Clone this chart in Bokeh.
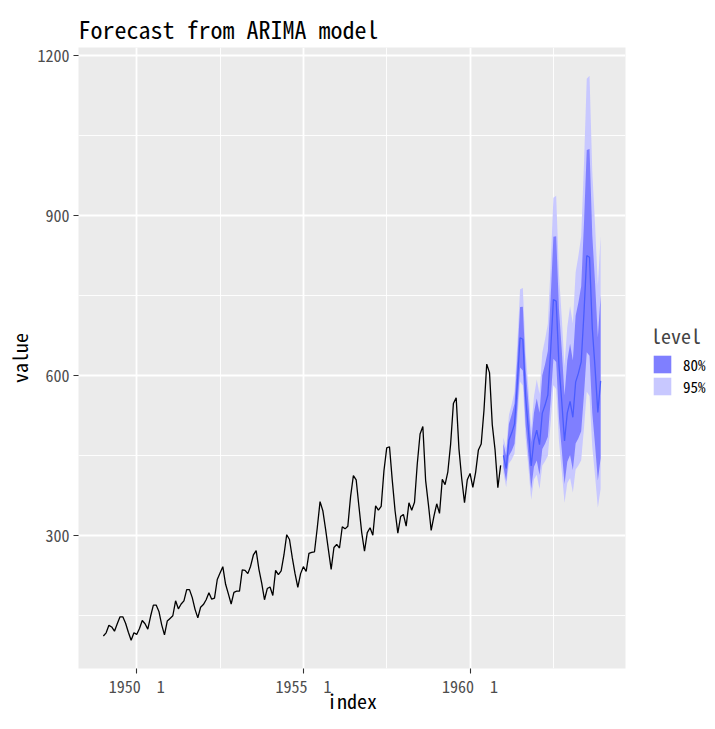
from bokeh.plotting import figure
from bokeh.models import (Range1d, FixedTicker, Legend, LegendItem, Title)
from bokeh.layouts import row
from bokeh.embed import file_html
from bokeh.resources import INLINE

# ---- data ----
hist_start = 1949
passengers = [
    112, 118, 132, 129, 121, 135, 148, 148, 136, 119, 104, 118,
    115, 126, 141, 135, 125, 149, 170, 170, 158, 133, 114, 140,
    145, 150, 178, 163, 172, 178, 199, 199, 184, 162, 146, 166,
    171, 180, 193, 181, 183, 218, 230, 242, 209, 191, 172, 194,
    196, 196, 236, 235, 229, 243, 264, 272, 237, 211, 180, 201,
    204, 188, 235, 227, 234, 264, 302, 293, 259, 229, 203, 229,
    242, 233, 267, 269, 270, 315, 364, 347, 312, 274, 237, 278,
    284, 277, 317, 313, 318, 374, 413, 405, 355, 306, 271, 306,
    315, 301, 356, 348, 355, 422, 465, 467, 404, 347, 305, 336,
    340, 318, 362, 348, 363, 435, 491, 505, 404, 359, 310, 337,
    360, 342, 406, 396, 420, 472, 548, 559, 463, 407, 362, 405,
    417, 391, 419, 461, 472, 535, 622, 606, 508, 461, 390, 432,
]
fc_start = 1961
fc_mean = [450.7, 426.1, 479.6, 493.1, 509.9, 584.5, 671.5, 668.7, 559.7, 498.7, 431.2, 478.9,
           498.0, 470.9, 530.1, 545.2, 564.0, 646.6, 743.0, 740.2, 619.7, 552.3, 477.7, 530.6,
           552.0, 522.2, 588.1, 605.0, 626.1, 718.0, 825.4, 822.5, 688.9, 614.1, 531.4, 590.5]
lo80 = [429.4, 402.7, 450.0, 459.7, 472.6, 538.7, 615.7, 610.1, 508.3, 450.8, 388.2, 429.3,
        441.2, 414.1, 462.8, 472.7, 485.8, 553.4, 632.1, 626.0, 521.1, 461.8, 397.3, 439.0,
        451.4, 423.5, 473.1, 482.9, 495.9, 564.6, 644.4, 637.6, 530.3, 469.6, 403.7, 445.7]
hi80 = [472.4, 450.0, 509.9, 527.4, 548.3, 631.7, 729.1, 729.4, 613.0, 548.4, 476.0, 530.6,
        557.5, 530.6, 601.0, 621.7, 646.7, 745.3, 860.9, 861.7, 724.8, 648.9, 563.8, 628.9,
        660.4, 628.9, 712.7, 737.7, 767.8, 885.6, 1023.7, 1025.5, 863.3, 773.5, 672.6, 750.9]
lo95 = [418.7, 391.0, 435.4, 443.3, 454.3, 516.5, 588.7, 582.0, 483.7, 428.0, 367.8, 405.9,
        414.7, 387.7, 431.9, 439.7, 450.3, 511.5, 582.5, 575.2, 477.5, 422.0, 362.1, 399.1,
        408.2, 381.4, 424.5, 431.7, 441.7, 501.2, 570.1, 562.3, 466.2, 411.5, 352.7, 388.2]
hi95 = [484.5, 463.5, 527.0, 546.9, 570.4, 658.9, 762.5, 764.6, 644.2, 577.6, 502.5, 561.2,
        593.1, 566.6, 644.0, 668.5, 697.5, 806.4, 934.2, 937.8, 791.0, 710.1, 618.5, 691.7,
        730.4, 698.3, 794.4, 825.3, 862.0, 997.7, 1157.1, 1162.9, 982.1, 882.7, 769.9, 862.1]

x_ticks = [1950, 1955, 1960]
x_tick_labels = ["1950\u00a0\u00a01", "1955\u00a0\u00a01", "1960\u00a0\u00a01"]
x_minor = [1947.5, 1952.5, 1957.5, 1962.5]
y_ticks = [300, 600, 900, 1200]
y_minor = [150, 450, 750, 1050]
levels = ["80%", "95%"]
band_colors = ["#7F7FFF", "#C8C8FF"]

# ---- derived positions ----
hist_x = [hist_start + i / 12 for i in range(len(passengers))]
fc_x = [fc_start + i / 12 for i in range(len(fc_mean))]

x_lo, x_hi = hist_x[0], fc_x[-1]
x_pad = 0.05 * (x_hi - x_lo)
y_lo = min(passengers + lo95)
y_hi = max(passengers + hi95)
y_pad = 0.05 * (y_hi - y_lo)

FONT = "'Noto Sans Mono CJK JP', 'DejaVu Sans Mono', monospace"
H = 713

p = figure(width=633, height=H, output_backend="svg", toolbar_location=None,
           x_range=Range1d(x_lo - x_pad, x_hi + x_pad),
           y_range=Range1d(y_lo - y_pad, y_hi + y_pad),
           min_border_left=78, min_border_right=8, min_border_top=47, min_border_bottom=45)

p.background_fill_color = "#EBEBEB"
p.border_fill_color = "white"
p.outline_line_color = None

# grids
p.xgrid.ticker = FixedTicker(ticks=x_ticks, minor_ticks=x_minor)
p.ygrid.ticker = FixedTicker(ticks=y_ticks, minor_ticks=y_minor)
for g in (p.xgrid, p.ygrid):
    g.grid_line_color = "white"
    g.grid_line_width = 1.8
    g.minor_grid_line_color = "white"
    g.minor_grid_line_width = 0.9

# axes
p.xaxis.ticker = FixedTicker(ticks=x_ticks, minor_ticks=x_minor)
p.yaxis.ticker = FixedTicker(ticks=y_ticks, minor_ticks=y_minor)
p.xaxis.major_label_overrides = dict(zip(x_ticks, x_tick_labels))
for ax in (p.xaxis, p.yaxis):
    ax.axis_line_color = None
    ax.major_tick_line_color = "#333333"
    ax.major_tick_line_width = 1.1
    ax.major_tick_out = 5
    ax.major_tick_in = 0
    ax.minor_tick_out = 0
    ax.minor_tick_in = 0
    ax.major_label_text_font = FONT
    ax.major_label_text_font_size = "16px"
    ax.major_label_text_color = "#4D4D4D"
    ax.axis_label_text_font = FONT
    ax.axis_label_text_font_size = "20px"
    ax.axis_label_text_font_style = "normal"
    ax.axis_label_text_color = "black"
p.xaxis.major_label_standoff = 0
p.yaxis.major_label_standoff = 4
p.yaxis.axis_label = "value"
p.yaxis.axis_label_standoff = 0

# x-axis title, centred under the panel
try:
    xtitle = Title(text="index", align="center", vertical_align="top",
                   text_font=FONT, text_font_size="20px", text_font_style="normal",
                   text_color="black", standoff=-29)
    p.add_layout(xtitle, "below")
except Exception:
    p.xaxis.axis_label = "index"
    p.xaxis.axis_label_standoff = 0

# title
p.title = Title(text="Forecast from ARIMA model", align="left",
                text_font=FONT, text_font_size="24px", text_font_style="normal",
                text_color="black", standoff=4, offset=0)

# glyphs
p.line(hist_x, passengers, line_color="black", line_width=1.3)
p.varea(x=fc_x, y1=lo95, y2=hi95, fill_color=band_colors[1])
p.varea(x=fc_x, y1=lo80, y2=hi80, fill_color=band_colors[0])
p.line(fc_x, fc_mean, line_color="#4A5CFF", line_width=1.3)

# ---- legend strip to the right of the panel ----
lg = figure(width=74, height=H, output_backend="svg", toolbar_location=None,
            x_axis_location=None, y_axis_location=None,
            x_range=Range1d(0, 1), y_range=Range1d(0, 1),
            min_border=0, min_border_left=0, min_border_right=0,
            min_border_top=0, min_border_bottom=0)
lg.outline_line_color = None
lg.background_fill_color = "white"
lg.border_fill_color = "white"
lg.xgrid.visible = False
lg.ygrid.visible = False
# key renderers carry the band data; the strip's ranges keep them out of view
k80 = lg.varea(x=fc_x, y1=lo80, y2=hi80, fill_color=band_colors[0])
k95 = lg.varea(x=fc_x, y1=lo95, y2=hi95, fill_color=band_colors[1])

legend = Legend(items=[LegendItem(label=levels[0], renderers=[k80]),
                       LegendItem(label=levels[1], renderers=[k95])],
                location=(18, 271), title="level",
                title_text_font=FONT, title_text_font_size="20px",
                title_text_font_style="normal", title_standoff=3,
                label_text_font=FONT, label_text_font_size="15px",
                label_text_color="black", label_standoff=10,
                glyph_width=22, glyph_height=22, label_height=22,
                spacing=0, padding=0, margin=0,
                border_line_color=None, background_fill_alpha=0)
lg.add_layout(legend, "center")

layout = row(p, lg)
open("out.html", "w").write(file_html(layout, INLINE))
